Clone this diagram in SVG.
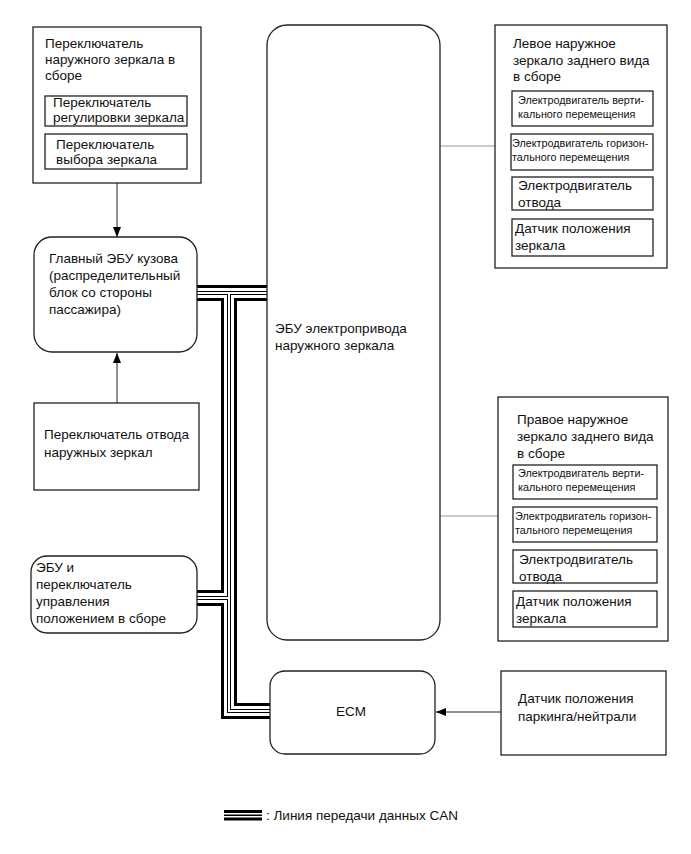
<svg xmlns="http://www.w3.org/2000/svg" width="691" height="854" viewBox="0 0 691 854">
<style>
  text { font-family: "Liberation Sans", Arial, sans-serif; font-size: 13.5px; fill: #111; }
  .sm { font-size: 10.8px; }
  .box { fill: #fff; stroke: #222; stroke-width: 1.3; }
  .thin { fill: none; stroke: #222; stroke-width: 1; }
  .gray { fill: none; stroke: #999; stroke-width: 1; }
  .c1 { fill: none; stroke: #000; stroke-width: 16; }
  .c2 { fill: none; stroke: #fff; stroke-width: 10; }
  .c3 { fill: none; stroke: #000; stroke-width: 4; }
  .c4 { fill: none; stroke: #fff; stroke-width: 2; }
</style>
<defs>
  <marker id="ah" markerWidth="10" markerHeight="8" refX="10" refY="4" orient="auto" markerUnits="userSpaceOnUse">
    <path d="M0,0 L10,4 L0,8 Z" fill="#000"/>
  </marker>
</defs>
<rect width="691" height="854" fill="#fff"/>

<g id="connectors">
  <g id="can-bus">
    <path class="c1" d="M197,293 H267 M229,293 V711 H270 M197,598 H229"/>
    <path class="c2" d="M197,293 H267 M229,293 V711 H270 M197,598 H229"/>
    <path class="c3" d="M197,293 H267 M229,293 V711 H270 M197,598 H229"/>
    <path class="c4" d="M197,293 H267 M229,293 V711 H270 M197,598 H229"/>
  </g>
  <line class="thin" x1="117" y1="183" x2="117" y2="237" marker-end="url(#ah)"/>
  <line class="thin" x1="117" y1="403" x2="117" y2="353" marker-end="url(#ah)"/>
  <line class="thin" x1="501" y1="712" x2="436" y2="712" marker-end="url(#ah)"/>
  <line class="gray" x1="440" y1="146" x2="495" y2="146"/>
  <line class="gray" x1="440" y1="516" x2="498" y2="516"/>
</g>

<g id="mirror-switch-assy">
  <rect class="box" x="33" y="27" width="168" height="156"/>
  <text x="45" y="48">Переключатель</text>
  <text x="45" y="64">наружного зеркала в</text>
  <text x="45" y="80">сборе</text>
  <rect class="box" x="45" y="96" width="142" height="30"/>
  <text x="53" y="107">Переключатель</text>
  <text x="53" y="122">регулировки зеркала</text>
  <rect class="box" x="45" y="134" width="142" height="35"/>
  <text x="56" y="149">Переключатель</text>
  <text x="56" y="164">выбора зеркала</text>
</g>

<g id="main-body-ecu">
  <rect class="box" x="34" y="237" width="163" height="115" rx="18"/>
  <text x="49" y="263">Главный ЭБУ кузова</text>
  <text x="49" y="280">(распределительный</text>
  <text x="49" y="297">блок со стороны</text>
  <text x="49" y="314">пассажира)</text>
</g>

<g id="retract-switch">
  <rect class="box" x="34" y="403" width="165" height="87"/>
  <text x="44" y="439">Переключатель отвода</text>
  <text x="44" y="457">наружных зеркал</text>
</g>

<g id="position-ecu-switch">
  <rect class="box" x="31" y="556" width="166" height="77" rx="16"/>
  <text x="36" y="572">ЭБУ и</text>
  <text x="36" y="589">переключатель</text>
  <text x="36" y="606">управления</text>
  <text x="36" y="623">положением в сборе</text>
</g>

<g id="mirror-ecu">
  <rect class="box" x="267" y="25" width="173" height="615" rx="20"/>
  <text x="275" y="333">ЭБУ электропривода</text>
  <text x="275" y="350">наружного зеркала</text>
</g>

<g id="ecm">
  <rect class="box" x="270" y="671" width="165" height="83" rx="15"/>
  <text x="351" y="716" text-anchor="middle">ECM</text>
</g>

<g id="pn-sensor">
  <rect class="box" x="501" y="671" width="165" height="84"/>
  <text x="518" y="703">Датчик положения</text>
  <text x="518" y="721">паркинга/нейтрали</text>
</g>

<g id="left-mirror">
  <rect class="box" x="495" y="25" width="172" height="243"/>
  <text x="513" y="48">Левое наружное</text>
  <text x="513" y="65">зеркало заднего вида</text>
  <text x="513" y="81">в сборе</text>
  <rect class="box" x="512" y="91" width="141" height="35"/>
  <text class="sm" x="518" y="104">Электродвигатель верти-</text>
  <text class="sm" x="518" y="118">кального перемещения</text>
  <rect class="box" x="511" y="134" width="142" height="36"/>
  <text class="sm" x="512" y="147">Электродвигатель горизон-</text>
  <text class="sm" x="512" y="161">тального перемещения</text>
  <rect class="box" x="512" y="177" width="141" height="33"/>
  <text x="518" y="190">Электродвигатель</text>
  <text x="518" y="207">отвода</text>
  <rect class="box" x="512" y="219" width="141" height="37"/>
  <text x="515" y="233">Датчик положения</text>
  <text x="515" y="250">зеркала</text>
</g>

<g id="right-mirror">
  <rect class="box" x="498" y="397" width="170" height="244"/>
  <text x="517" y="424">Правое наружное</text>
  <text x="517" y="441">зеркало заднего вида</text>
  <text x="517" y="458">в сборе</text>
  <rect class="box" x="513" y="465" width="144" height="34"/>
  <text class="sm" x="518" y="477">Электродвигатель верти-</text>
  <text class="sm" x="518" y="491">кального перемещения</text>
  <rect class="box" x="513" y="507" width="144" height="35"/>
  <text class="sm" x="515" y="520">Электродвигатель горизон-</text>
  <text class="sm" x="515" y="534">тального перемещения</text>
  <rect class="box" x="513" y="550" width="144" height="33"/>
  <text x="519" y="564">Электродвигатель</text>
  <text x="519" y="581">отвода</text>
  <rect class="box" x="513" y="591" width="144" height="36"/>
  <text x="516" y="606">Датчик положения</text>
  <text x="516" y="623">зеркала</text>
</g>

<g id="legend">
  <rect x="224" y="810" width="38" height="3" fill="#000"/>
  <rect x="224" y="814.5" width="38" height="1.5" fill="#000"/>
  <rect x="224" y="817.5" width="38" height="3" fill="#000"/>
  <text x="266" y="820">: Линия передачи данных CAN</text>
</g>
</svg>
